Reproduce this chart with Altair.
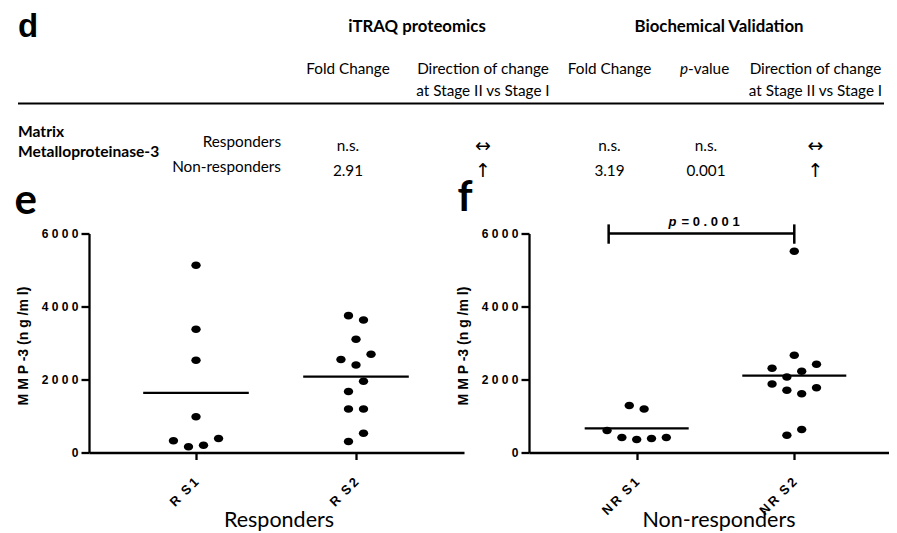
import altair as alt
import pandas as pd

# ---------------- data ----------------
panel_letters = ["d", "e", "f"]

table_groups = ["iTRAQ proteomics", "Biochemical Validation"]
header_line1 = ["Fold Change", "Direction of change", "Fold Change", "p-value", "Direction of change"]
header_line2 = ["", "at Stage II vs Stage I", "", "", "at Stage II vs Stage I"]
protein_name = ["Matrix", "Metalloproteinase-3"]
cohorts = ["Responders", "Non-responders"]
responders_cells = ["n.s.", "\u2194", "n.s.", "n.s.", "\u2194"]
nonresponders_cells = ["2.91", "\u2191", "3.19", "0.001", "\u2191"]

r_groups = ["R S1", "R S2"]
nr_groups = ["NR S1", "NR S2"]

rs1_values = [5130, 3380, 2530, 980, 320, 155, 200, 385]
rs1_slots = [0, 0, 0, 0, -3, -1, 1, 3]
rs2_values = [3750, 3630, 3100, 2550, 2395, 2695, 1955, 1670, 1190, 1190, 530, 300]
rs2_slots = [-1, 1, 0, -2, 0, 2, 1, -1, -1, 1, 1, -1]

nrs1_values = [1285, 1190, 605, 410, 355, 385, 410]
nrs1_slots = [-1, 1, -4, -2, 0, 2, 4]
nrs2_values = [5515, 2665, 2310, 2420, 2225, 2070, 1880, 1705, 1610, 1775, 630, 475]
nrs2_slots = [0, 0, -3, 3, 1, -1, -3, -1, 1, 3, 1, -1]

y_ticks = [0, 2000, 4000, 6000]
y_title = "M M P -3 (n g /m l)"
x_titles = ["Responders", "Non-responders"]
comparison = {"from": 1, "to": 2, "level": 6000, "p": "0.001"}

# ---------------- layout / style ----------------
TABLE_FONT = "Lato"
AX_FONT = "Liberation Sans"
ARROWS = {"\u2194", "\u2191", "\u2193"}
SLOT = 0.047        # horizontal step of the dot swarm (x units)
HALF = 0.33         # half width of the mean line (x units)
OX = 88             # table x positions are given relative to the panel-e axis

T_COLS = ["itraq_fc", "itraq_dir", "bio_fc", "bio_p", "bio_dir"]
col_x = {"left": 17, "cohort": 280, "itraq": 416, "bio": 718,
         "itraq_fc": 347, "itraq_dir": 482, "bio_fc": 608.5, "bio_p": 705,
         "bio_p_split": 687, "bio_dir": 814.5, "end": 883}
col_x = {k: v - OX for k, v in col_x.items()}
row_y = {"letter": 27, "group": 17, "h1": 59, "h2": 80.7, "line": 93.5,
         "prot1": 122, "prot2": 142, "r1": 132, "r2": 157, "v1": 135.7, "v2": 160.7}

# ---------------- table (panel d) ----------------
cells = [("letter", "left", "letter", panel_letters[0])]
for g, key in zip(table_groups, ["itraq", "bio"]):
    cells.append(("group", key, "group", g))
for i, key in enumerate(T_COLS):
    t1 = header_line1[i]
    if t1.startswith("p-"):
        cells.append(("head_it", "bio_p_split", "h1", t1[0]))
        cells.append(("head_rest", "bio_p_split", "h1", t1[1:]))
    else:
        cells.append(("head", key, "h1", t1))
    if header_line2[i]:
        cells.append(("head", key, "h2", header_line2[i]))
cells.append(("prot", "left", "prot1", protein_name[0]))
cells.append(("prot", "left", "prot2", protein_name[1]))
cells.append(("cohort", "cohort", "r1", cohorts[0]))
cells.append(("cohort", "cohort", "r2", cohorts[1]))
for i, key in enumerate(T_COLS):
    for row, vals in (("v1", responders_cells), ("v2", nonresponders_cells)):
        t = vals[i]
        cells.append(("arrow" if t in ARROWS else "val", key, row, t))

cells_df = pd.DataFrame([{"style": s, "x": col_x[c], "y": row_y[r], "text": t} for s, c, r, t in cells])

styles = {
    "letter": dict(font=AX_FONT, fontSize=33, fontWeight="bold", align="left", baseline="alphabetic"),
    "group": dict(fontSize=16.8, fontWeight="bold", align="center", baseline="middle"),
    "head": dict(fontSize=15.3, align="center", baseline="middle"),
    "head_it": dict(fontSize=15.3, fontStyle="italic", align="right", baseline="middle"),
    "head_rest": dict(fontSize=15.3, align="left", baseline="middle"),
    "prot": dict(fontSize=15.6, fontWeight="bold", align="left", baseline="middle"),
    "cohort": dict(fontSize=15.3, align="right", baseline="middle"),
    "val": dict(fontSize=15.3, align="center", baseline="middle"),
    "arrow": dict(font="DejaVu Sans", fontSize=19, align="center", baseline="middle"),
}

table_layers = []
for s, props in styles.items():
    p = dict(font=TABLE_FONT)
    p.update(props)
    table_layers.append(
        alt.Chart(cells_df).transform_filter(alt.datum.style == s)
        .mark_text(color="black", **p)
        .encode(x=alt.X("x:Q", scale=None, axis=None),
                y=alt.Y("y:Q", scale=None, axis=None),
                text="text:N")
    )
line_df = pd.DataFrame({"x": [col_x["left"]], "x2": [col_x["end"]], "y": [row_y["line"]]})
table_layers.append(
    alt.Chart(line_df).mark_rule(color="black", strokeWidth=2)
    .encode(x=alt.X("x:Q", scale=None, axis=None), x2="x2:Q",
            y=alt.Y("y:Q", scale=None, axis=None))
)
table = alt.layer(*table_layers).properties(width=700, height=170)

# ---------------- scatter panels ----------------
ELLIPSE = "M-1,0A1,0.8,0,1,1,1,0A1,0.8,0,1,1,-1,0Z"


def spaced(s):
    out = s.replace(" ", "\u2002")
    return "\u2009".join(list(out)).replace("\u2009\u2002\u2009", "\u2002")


def panel(letter, groups, vals_list, slots_list, domain, width, height, xtitle,
          title_dy, title_dx, extra=None):
    rows = []
    for gi, (vals, slots) in enumerate(zip(vals_list, slots_list)):
        for v, s in zip(vals, slots):
            rows.append({"group": groups[gi], "idx": gi + 1, "value": v, "slot": s})
    df = pd.DataFrame(rows)
    xscale = alt.Scale(domain=domain, nice=False, zero=False)
    yscale = alt.Scale(domain=[0, 6000], nice=False)
    labels = [spaced(g) for g in groups]
    label_expr = "[" + ",".join("'" + l + "'" for l in labels) + "][datum.value - 1]"
    xaxis = alt.Axis(
        title=xtitle, values=[1, 2], labelExpr=label_expr, labelAngle=315,
        labelAlign="right", labelBaseline="middle", labelPadding=20,
        labelFont=AX_FONT, labelFontSize=13, labelFontWeight="bold", labelColor="black",
        tickSize=7, tickWidth=2.3, tickColor="black", domainColor="black", domainWidth=2.3,
        grid=False, titleFont=TABLE_FONT, titleFontSize=21.5, titleFontWeight="normal",
        titleColor="black", titleX=189.5, titleY=74, titleBaseline="alphabetic",
        titleAlign="center")
    yaxis = alt.Axis(
        title=y_title, values=y_ticks, labelExpr="join(split(format(datum.value, 'd'), ''), ' ')",
        labelFont=AX_FONT, labelFontSize=12, labelFontWeight="bold", labelColor="black",
        labelPadding=3, tickSize=8, tickWidth=2.3, tickColor="black",
        domainColor="black", domainWidth=2.3, grid=False,
        titleFont=AX_FONT, titleFontSize=14, titleFontWeight="bold", titleColor="black",
        titleAngle=270, titleX=-65.5, titleY=112, titleAlign="center", titleBaseline="middle")

    def X(field):
        return alt.X(field, scale=xscale, axis=xaxis)

    def Y(field):
        return alt.Y(field, scale=yscale, axis=yaxis)

    points = (alt.Chart(df)
              .transform_calculate(xpos=f"datum.idx + datum.slot * {SLOT}")
              .mark_point(shape=ELLIPSE, filled=True, size=88, color="black", opacity=1)
              .encode(x=X("xpos:Q"), y=Y("value:Q")))
    means = (alt.Chart(df)
             .transform_aggregate(mean_value="mean(value)", groupby=["idx"])
             .transform_calculate(x1=f"datum.idx - {HALF}", x2=f"datum.idx + {HALF}")
             .mark_rule(color="black", strokeWidth=2.3)
             .encode(x=X("x1:Q"), x2="x2:Q", y=Y("mean_value:Q")))
    layers = [points, means]
    if extra:
        layers += extra(X, Y)
    return alt.layer(*layers).properties(
        width=width, height=height,
        title=alt.TitleParams(letter, anchor="start", font=TABLE_FONT, fontSize=42,
                              fontWeight="bold", color="black", baseline="alphabetic",
                              offset=0, dy=title_dy, dx=title_dx))


def bracket(X, Y):
    bdf = pd.DataFrame([comparison])
    base = alt.Chart(bdf).transform_calculate(
        xl="datum.from - 0.178", xr="datum.to",
        xm="(datum.from - 0.178 + datum.to) / 2",
        ylo="datum.level - 280", yhi="datum.level + 250",
        ptxt="'= ' + join(split(datum.p, ''), ' ')")
    hline = base.mark_rule(color="black", strokeWidth=2.5).encode(
        x=X("xl:Q"), x2="xr:Q", y=Y("level:Q"))
    capl = base.mark_rule(color="black", strokeWidth=2.5).encode(
        x=X("xl:Q"), y=Y("ylo:Q"), y2="yhi:Q")
    capr = base.mark_rule(color="black", strokeWidth=2.5).encode(
        x=X("xr:Q"), y=Y("ylo:Q"), y2="yhi:Q")
    ptext = base.mark_text(font=AX_FONT, fontSize=13, fontWeight="bold", fontStyle="italic",
                           align="right", baseline="alphabetic", dx=-25, dy=-8,
                           color="black").encode(
        x=X("xm:Q"), y=Y("level:Q"), text=alt.value("p"))
    vtext = base.mark_text(font=AX_FONT, fontSize=13, fontWeight="bold",
                           align="left", baseline="alphabetic", dx=-20, dy=-8,
                           color="black").encode(
        x=X("xm:Q"), y=Y("level:Q"), text="ptxt:N")
    return [hline, capl, capr, ptext, vtext]


panel_e = panel(panel_letters[1], r_groups, [rs1_values, rs2_values], [rs1_slots, rs2_slots],
                [0.33125, 2.675], 375, 219, x_titles[0], 28, -2)
panel_f = panel(panel_letters[2], nr_groups, [nrs1_values, nrs2_values], [nrs1_slots, nrs2_slots],
                [0.3166, 2.601], 360, 219, x_titles[1], 37.5, 1, extra=bracket)

bottom = alt.hconcat(panel_e, panel_f, spacing=65, bounds="flush")

chart = (alt.vconcat(table, bottom, spacing=53.5, bounds="flush")
         .properties(padding={"left": 6, "top": 2, "right": 0, "bottom": 0},
                     background="white")
         .configure_view(strokeWidth=0))

chart.save("out.html", embed_options={"renderer": "svg", "actions": False})
